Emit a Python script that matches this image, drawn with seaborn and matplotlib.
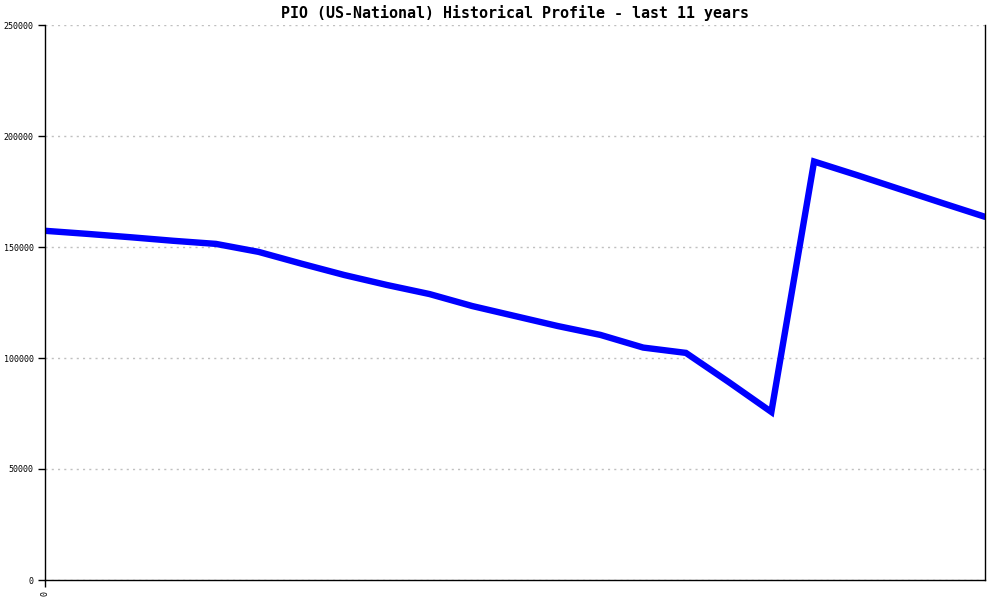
import pandas as pd
import matplotlib
matplotlib.use('Agg')
import matplotlib.pyplot as plt
import seaborn as sns

# Population values, one per step (23 points)
step = list(range(23))
population = [157300, 155900, 154400, 152800, 151400, 147800, 142500, 137400,
              132900, 128800, 123400, 118900, 114400, 110400, 104700, 102300,
              89200, 75700, 188500, 182400, 176100, 169800, 163600]
y_ticks = [0, 50000, 100000, 150000, 200000, 250000]

df = pd.DataFrame({'step': step, 'population': population})

sns.set_style('white')
plt.rcParams['font.family'] = ['DejaVu Sans Mono']
plt.rcParams['text.color'] = 'black'
plt.rcParams['xtick.color'] = 'black'
plt.rcParams['ytick.color'] = 'black'

fig = plt.figure(figsize=(10, 6), dpi=100)
ax = fig.add_axes([0.045, 1 - 580 / 600, 0.94, 555 / 600])

sns.lineplot(data=df, x='step', y='population', color='#0000ff',
             linewidth=4.6, ax=ax, solid_joinstyle='miter')

ax.set_xlim(0, 22)
ax.set_ylim(0, 250000)
ax.set_yticks(y_ticks)
ax.set_yticklabels([str(v) for v in y_ticks], fontsize=6, color='black')
ax.set_xticks([0])
ax.set_xticklabels(['0'], fontsize=6, rotation=90, color='black')
ax.set_xlabel('')
ax.set_ylabel('')

# dotted horizontal grid
ax.yaxis.grid(True, color='#c0c0c0', linestyle=(0, (1.5, 3)), linewidth=1)
ax.xaxis.grid(False)

ax.tick_params(axis='both', direction='out', length=5, width=1,
               color='black', pad=3, left=True, bottom=True)

for side in ['left', 'bottom', 'right']:
    ax.spines[side].set_color('black')
    ax.spines[side].set_linewidth(1)
ax.spines['top'].set_visible(False)

ax.set_title('PIO (US-National) Historical Profile - last 11 years',
             fontsize=10.8, pad=5, color='black', fontweight='bold')

fig.savefig('out.png', dpi=100)
